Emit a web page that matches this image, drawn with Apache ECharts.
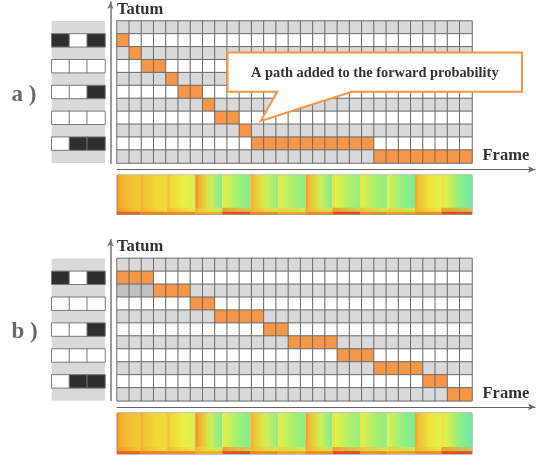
<!DOCTYPE html>
<html><head><meta charset="utf-8">
<script src="https://cdn.jsdelivr.net/npm/echarts@6/dist/echarts.min.js"></script>
<style>html,body{margin:0;padding:0;background:#fff}#c{width:547px;height:462px}</style>
</head><body><div id="c"></div>
<script>
// ---------- data ----------
const frameCount = 29;
const tatumCount = 11;
const frames = Array.from({length: frameCount}, (_, i) => String(i));
const tatums = Array.from({length: tatumCount}, (_, i) => String(i));
// row shading of the lattice, top to bottom (1 = grey row, 0 = white row)
const rowShade = [1,0,1,0,1,0,1,0,1,0,1];
// tatum row (from top) occupied by the path at each frame
const pathA = [1,2,3,3,4,5,5,6,7,7,8,9,9,9,9,9,9,9,9,9,9,10,10,10,10,10,10,10,10];
const pathB = [1,1,1,2,2,2,3,3,4,4,4,4,5,5,6,6,6,6,7,7,7,8,8,8,8,9,9,10,10];
// darker shaded cells in b) [frame, row]
const shadedB = [[0,2],[1,2],[2,2]];
// keyboard-like pitch keys on the left (rows, three boxes each, 1 = black)
const keyRows = [1,3,5,7,9];
const keyPattern = [[1,0,1],[0,0,0],[0,0,1],[0,0,0],[0,1,1]];
// spectrogram segments (in frame units) and their loudness (0 cyan .. 1 red)
const segStart = [0, 1.9, 4.1, 6.4, 8.6, 10.9, 13.2, 15.4, 17.6, 19.85, 22.1, 24.35, 26.5];
const segEnd   = [1.9, 4.1, 6.4, 8.6, 10.9, 13.2, 15.4, 17.6, 19.85, 22.1, 24.35, 26.5, 29];
const segOnset = [0.74, 0.66, 0.6, 0.74, 0.44, 0.66, 0.44, 0.7, 0.48, 0.44, 0.4, 0.68, 0.48];
const segTail  = [0.64, 0.58, 0.44, 0.16, 0.2, 0.24, 0.24, 0.18, 0.26, 0.24, 0.16, 0.46, 0.1];
const segBass  = [0.92, 0.84, 0.82, 0.74, 0.96, 0.82, 0.76, 0.82, 0.97, 0.82, 0.78, 0.82, 0.97];

// ---------- build ----------
function latticeData(path, shaded) {
  const d = [];
  for (let r = 0; r < tatumCount; r++) {
    for (let c = 0; c < frameCount; c++) {
      let v = rowShade[r];
      if (shaded.some(s => s[0] === c && s[1] === r)) v = 3;
      if (path[c] === r) v = 2;
      d.push([c, r, v]);
    }
  }
  return d;
}
function keyData() {
  const d = [];
  keyRows.forEach((r, i) => keyPattern[i].forEach((b, k) => d.push([k, r, b ? 4 : 0])));
  return d;
}
const specData = segStart.map((s, i) => [s, segEnd[i], segOnset[i], segTail[i], segBass[i]]);
const palette = ['#52e2c4', '#93ef80', '#eef040', '#f5aa2c', '#e2401c'];
const col = t => echarts.color.lerp(Math.max(0, Math.min(1, t)), palette);

function renderSpec(params, api) {
  const s = api.value(0), e = api.value(1);
  const on = api.value(2), tl = api.value(3), bs = api.value(4);
  const p0 = api.coord([s, 1]), p1 = api.coord([e, 0]);
  const x = p0[0], w = p1[0] - p0[0], y = p0[1], h = p1[1] - p0[1];
  const grad = new echarts.graphic.LinearGradient(0, 0, 1, 0, [
    {offset: 0, color: col(on + 0.1)}, {offset: 0.12, color: col(on)},
    {offset: 0.55, color: col((on + tl) / 2 - 0.03)}, {offset: 1, color: col(tl)}]);
  const gradLow = new echarts.graphic.LinearGradient(0, 0, 1, 0, [
    {offset: 0, color: col(bs - 0.1)}, {offset: 1, color: col(bs - 0.28)}]);
  return {type: 'group', children: [
    {type: 'rect', shape: {x: x, y: y, width: w, height: h}, style: {fill: grad}},
    {type: 'rect', shape: {x: x, y: y + h * 0.83, width: w, height: h * 0.11}, style: {fill: gradLow, opacity: 0.65}},
    {type: 'rect', shape: {x: x, y: y + h * 0.93, width: w, height: h * 0.07}, style: {fill: col(bs)}}
  ]};
}

const dy = 237.4;
const panels = [
  {lab: 'a )', top: 21, h: 142, path: pathA, shaded: [], specTop: 175, specH: 39.5, axTop: 2, axBot: 163.2, xAxY: 169.5},
  {lab: 'b )', top: 21 + dy, h: 142.4, path: pathB, shaded: shadedB, specTop: 175 + dy + 0.6, specH: 41, axTop: 2 + dy, axBot: 163.2 + dy, xAxY: 169.5 + dy}
];

const grid = [], xAxis = [], yAxis = [], series = [], graphic = [], heatIdx = [];
const serif = '"Liberation Serif", "DejaVu Serif", serif';
panels.forEach((p, pi) => {
  const g0 = grid.length;
  // lattice
  grid.push({left: 117, top: p.top, width: 355, height: p.h});
  xAxis.push({type: 'category', data: frames, gridIndex: g0, show: false});
  yAxis.push({type: 'category', data: tatums, gridIndex: g0, show: false, inverse: true});
  heatIdx.push(series.length);
  series.push({type: 'heatmap', xAxisIndex: g0, yAxisIndex: g0, data: latticeData(p.path, p.shaded),
    itemStyle: {borderColor: '#6c6c6c', borderWidth: 1}, emphasis: {disabled: true}, silent: true});
  // keys
  grid.push({left: 51.7, top: p.top, width: 53.3, height: p.h, show: true, backgroundColor: '#d9d9d9', borderWidth: 0});
  xAxis.push({type: 'category', data: ['0','1','2'], gridIndex: g0 + 1, show: false});
  yAxis.push({type: 'category', data: tatums, gridIndex: g0 + 1, show: false, inverse: true});
  heatIdx.push(series.length);
  series.push({type: 'heatmap', xAxisIndex: g0 + 1, yAxisIndex: g0 + 1, data: keyData(),
    itemStyle: {borderColor: '#7a7a7a', borderWidth: 1}, emphasis: {disabled: true}, silent: true});
  // spectrogram
  grid.push({left: 117, top: p.specTop, width: 355, height: p.specH, show: true, borderColor: '#8a8a8a', borderWidth: 1, backgroundColor: 'transparent'});
  xAxis.push({type: 'value', min: 0, max: frameCount, gridIndex: g0 + 2, show: false});
  yAxis.push({type: 'value', min: 0, max: 1, gridIndex: g0 + 2, show: false});
  series.push({type: 'custom', xAxisIndex: g0 + 2, yAxisIndex: g0 + 2, data: specData, renderItem: renderSpec, silent: true, clip: true});
  // vertical Tatum axis
  grid.push({left: 110.5, top: p.axTop, width: 1, height: p.axBot - p.axTop});
  xAxis.push({type: 'value', gridIndex: g0 + 3, show: false});
  yAxis.push({type: 'value', gridIndex: g0 + 3, position: 'left', min: 0, max: 1,
    axisLine: {show: true, onZero: false, symbol: ['none', 'arrow'], symbolSize: [5, 7], lineStyle: {color: '#777', width: 1.5}},
    axisTick: {show: false}, axisLabel: {show: false}, splitLine: {show: false}});
  // horizontal Frame axis
  grid.push({left: 117, top: p.xAxY - 1, width: 418, height: 1});
  xAxis.push({type: 'value', gridIndex: g0 + 4, position: 'bottom', min: 0, max: 1,
    axisLine: {show: true, onZero: false, symbol: ['none', 'arrow'], symbolSize: [5, 7], lineStyle: {color: '#666', width: 1.2}},
    axisTick: {show: false}, axisLabel: {show: false}, splitLine: {show: false}});
  yAxis.push({type: 'value', gridIndex: g0 + 4, show: false});
  // texts
  const off = pi === 0 ? 0 : dy;
  graphic.push({type: 'text', left: 117, top: 1 + off, z: 50,
    style: {text: 'Tatum', font: 'bold 16.5px ' + serif, fill: '#333'}});
  graphic.push({type: 'text', x: 482.5, y: 156 + off, z: 50,
    style: {text: 'Frame', font: 'bold 16.5px ' + serif, fill: '#333', textVerticalAlign: 'middle'}});
  graphic.push({type: 'text', x: 11.5, y: 95 + off, z: 50,
    style: {text: p.lab, font: 'bold 23px ' + serif, fill: '#6a6a6a', textVerticalAlign: 'middle'}});
});
// callout
graphic.push({type: 'polygon', z: 60, shape: {points: [[227.5,52.5],[522,52.5],[522,91.7],[351.7,91.7],[260.7,121],[277.3,91.7],[227.5,91.7]]},
  style: {fill: '#fff', stroke: '#f79646', lineWidth: 2}});
graphic.push({type: 'text', z: 61, x: 374.8, y: 73.3,
  style: {text: 'A path added to the forward probability', font: 'bold 14.4px ' + serif, fill: '#333', textAlign: 'center', textVerticalAlign: 'middle'}});

const chart = echarts.init(document.getElementById('c'), null, {renderer: 'canvas'});
chart.setOption({
  animation: false,
  grid, xAxis, yAxis, series, graphic,
  visualMap: [{type: 'piecewise', show: false, seriesIndex: heatIdx, dimension: 2,
    pieces: [{value: 0, color: '#ffffff'}, {value: 1, color: '#d9d9d9'}, {value: 2, color: '#f79646'},
             {value: 3, color: '#c0c0c0'}, {value: 4, color: '#2e2e2e'}]}]
});
</script></body></html>
